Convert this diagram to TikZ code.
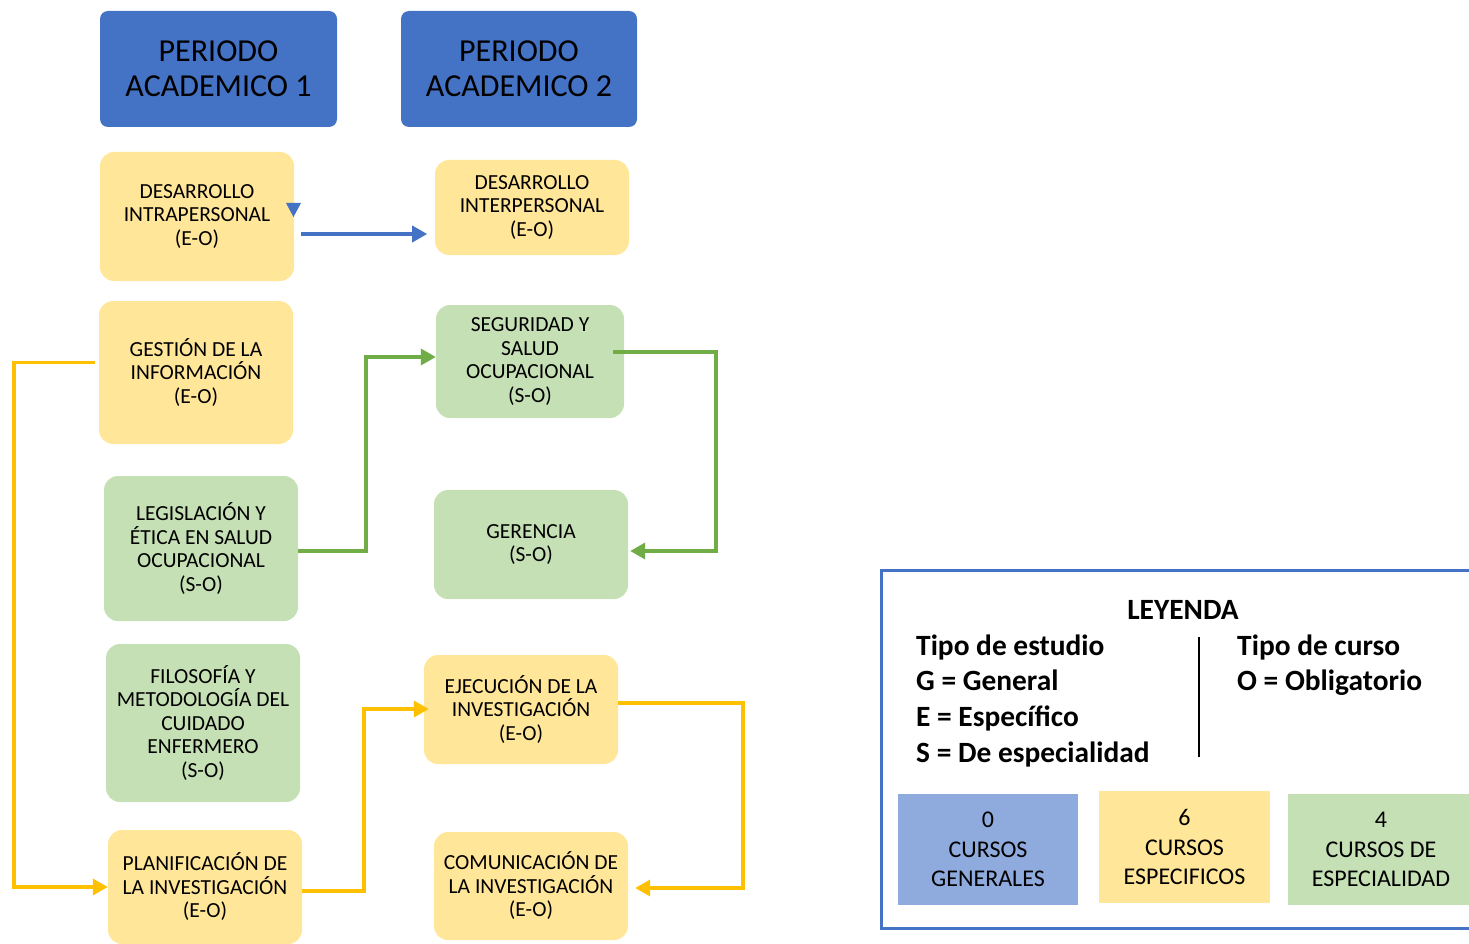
\documentclass[tikz,border=0pt]{standalone}
\usepackage{fontspec}
\setmainfont{Carlito}
\usetikzlibrary{arrows.meta,calc}
\definecolor{yfill}{HTML}{FFE699}
\definecolor{gfill}{HTML}{C5E0B4}
\definecolor{bfill}{HTML}{4472C4}
\definecolor{lbfill}{HTML}{8FAADC}
\definecolor{yline}{HTML}{FFC000}
\definecolor{gline}{HTML}{70AD47}
\definecolor{bline}{HTML}{4472C4}
\begin{document}
\begin{tikzpicture}[x=1pt,y=-1pt,
  box/.style={rounded corners=14pt, inner sep=0pt, align=center, text=black,
    font=\fontsize{21.5}{23.5}\selectfont},
  ybox/.style={box, fill=yfill},
  gbox/.style={box, fill=gfill},
  tbox/.style={rounded corners=8pt, inner sep=0pt, align=center, text=black, fill=bfill,
    font=\fontsize{32}{35}\selectfont},
  lbox/.style={inner sep=0pt, align=center, text=black, font=\fontsize{24}{29.5}\selectfont},
  conn/.style={line width=3.5pt, -{Triangle[length=15pt,width=16pt]}},
  yarrow/.style={conn, draw=yline},
  garrow/.style={conn, draw=gline},
  barrow/.style={conn, draw=bline},
  leg/.style={inner sep=0pt, text=black, font=\fontsize{29.4}{36}\selectfont\bfseries}
]
\useasboundingbox (0,0) rectangle (1469,944);

% header
\node[tbox, minimum width=237pt, minimum height=116pt] (pa1) at (218.5,69) {PERIODO\\ACADEMICO 1};
\node[tbox, minimum width=236pt, minimum height=116pt] (pa2) at (519,69) {PERIODO\\ACADEMICO 2};

% period 1
\node[ybox, minimum width=194pt, minimum height=129pt] (di) at (197,216.5) {DESARROLLO\\INTRAPERSONAL\\(E-O)};
\node[ybox, minimum width=194pt, minimum height=143pt] (gi) at (196,372.5) {GESTIÓN DE LA\\INFORMACIÓN\\(E-O)};
\node[gbox, minimum width=194pt, minimum height=145pt] (les) at (201,548.5) {LEGISLACIÓN Y\\ÉTICA EN SALUD\\OCUPACIONAL\\(S-O)};
\node[gbox, minimum width=194pt, minimum height=158pt] (fil) at (203,723) {FILOSOFÍA Y\\METODOLOGÍA DEL\\CUIDADO\\ENFERMERO\\(S-O)};
\node[ybox, minimum width=194pt, minimum height=114pt] (plan) at (205,887) {PLANIFICACIÓN DE\\LA INVESTIGACIÓN\\(E-O)};

% period 2
\node[ybox, minimum width=194pt, minimum height=95pt] (din) at (532,207.5) {DESARROLLO\\INTERPERSONAL\\(E-O)};
\node[gbox, minimum width=188pt, minimum height=113pt] (sso) at (530,361.5) {SEGURIDAD Y\\SALUD\\OCUPACIONAL\\(S-O)};
\node[gbox, minimum width=194pt, minimum height=109pt] (ger) at (531,544.5) {GERENCIA\\(S-O)};
\node[ybox, minimum width=194pt, minimum height=109pt] (ej) at (521,709.5) {EJECUCIÓN DE LA\\INVESTIGACIÓN\\(E-O)};
\node[ybox, minimum width=194pt, minimum height=108pt] (com) at (531,886) {COMUNICACIÓN DE\\LA INVESTIGACIÓN\\(E-O)};

% connectors
\draw[barrow] ([shift={(7pt,-17.5pt)}]di.east) -- ++(126,0);
\fill[bline] (286,203) -- (301,203) -- (293.5,217) -- cycle;
\draw[yarrow] ([shift={(-4pt,10pt)}]gi.west) -- ++(-81,0) |- (plan.west);
\draw[garrow] ([yshift=-2.5pt]les.east) -- ++(68,0) |- ([yshift=4.5pt]sso.west);
\draw[garrow] ([shift={(-11pt,9.5pt)}]sso.east) -- ++(103,0) |- ([shift={(2pt,-6.5pt)}]ger.east);
\draw[yarrow] ([yshift=-4pt]plan.east) -- ++(62,0) |- ([shift={(5pt,0.5pt)}]ej.west);
\draw[yarrow] ([yshift=6.5pt]ej.east) -- ++(125,0) |- ([shift={(7pt,-2pt)}]com.east);

% legend
\draw[bline, line width=3pt] (1480,570) -- (881,570) -- (881,928) -- (1480,928);
\node[leg, anchor=base] (ley) at (1183,619) {LEYENDA};
\node[leg, anchor=base west] (te) at (916,655) {Tipo de estudio};
\node[leg, anchor=base west] (tg) at (916,690) {G = General};
\node[leg, anchor=base west] (tes) at (916,726) {E = Específico};
\node[leg, anchor=base west] (ts) at (916,762) {S = De especialidad};
\node[leg, anchor=base west] (tc) at (1237,655) {Tipo de curso};
\node[leg, anchor=base west] (to) at (1237,690) {O = Obligatorio};
\coordinate (sepa) at (1199,637);
\coordinate (sepb) at (1199,757);
\draw[black, line width=2.5pt] (sepa) -- (sepb);

\node[lbox, fill=lbfill, minimum width=180pt, minimum height=111pt] (lb1) at (988,849.5) {0\\CURSOS\\GENERALES};
\node[lbox, fill=yfill, minimum width=171pt, minimum height=112pt] (lb2) at (1184.5,847) {6\\CURSOS\\ESPECIFICOS};
\node[lbox, fill=gfill, minimum width=186pt, minimum height=111pt] (lb3) at (1381,849.5) {4\\CURSOS DE\\ESPECIALIDAD};
\end{tikzpicture}
\end{document}
